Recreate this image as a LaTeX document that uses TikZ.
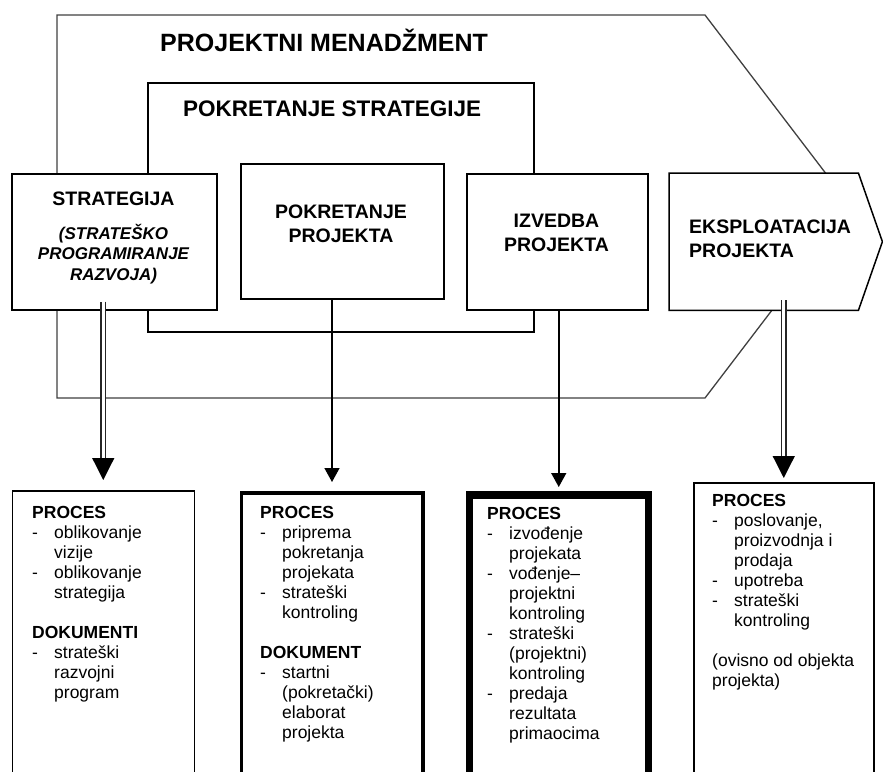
\documentclass[tikz,border=0pt]{standalone}
\usepackage{fontspec}
\setmainfont{Liberation Sans}
\usetikzlibrary{arrows.meta,calc}
\newcommand{\itm}[1]{\makebox[22pt][l]{-}#1}
\newcommand{\cnt}[1]{\hspace*{22pt}#1}
\begin{document}
\begin{tikzpicture}[x=1pt,y=-1pt,
  frame/.style={draw=black!75,line width=1.3pt},
  topbox/.style={draw=black,line width=1.5pt,fill=white,inner sep=0pt,anchor=north west},
  lowbox/.style={draw=black,fill=white,inner sep=0pt,anchor=north west,minimum height=330pt},
  ttl/.style={font=\fontsize{19.5}{24.3}\selectfont\bfseries,inner sep=0pt},
  bodytxt/.style={font=\fontsize{17.5}{20}\selectfont,inner sep=0pt,anchor=base west},
  smallarrow/.style={line width=1.5pt,-{Triangle[width=15pt,length=14pt]}},
  bigarrow/.style={line width=1.2pt,-{Triangle[width=22pt,length=22pt]}},
  dblshaft/.style={draw=black!85,double=white,double distance=3pt,line width=1.3pt}]
\useasboundingbox (0,0) rectangle (883,771);
\begin{scope}
\clip (0,0) rectangle (883,771);
% outer frame: projektni menadzment
\draw[frame,fill=white] (57,15) -- (705,15) -- (851,206.5) -- (705,398) -- (57,398) -- cycle;
\node[anchor=base west,inner sep=0pt,font=\fontsize{25}{30}\selectfont\bfseries] (pm) at (160,51) {PROJEKTNI MENADŽMENT};
% inner frame: pokretanje strategije
\draw[line width=1.5pt] (148,83) rectangle (534,332);
\node[anchor=base west,inner sep=0pt,font=\fontsize{22.5}{27}\selectfont\bfseries] (ps) at (183,116) {POKRETANJE STRATEGIJE};
% top boxes
\node[topbox,minimum width=205pt,minimum height=136pt] (strat) at (11,173) {};
\node[topbox,minimum width=203pt,minimum height=135pt] (pok) at (240,163) {};
\node[topbox,minimum width=181pt,minimum height=136pt] (izv) at (466,173) {};
\node[inner sep=0pt,anchor=north west,minimum width=189pt,minimum height=137pt] (eks) at (669,173) {};
\draw[line width=1.5pt,fill=white] (eks.north west) -- (eks.north east) -- ($(eks.east)+(24,0)$) -- (eks.south east) -- (eks.south west) -- cycle;
% top texts
\node[ttl,anchor=base] (t1) at (113.5,205) {STRATEGIJA};
\node[anchor=base,inner sep=0pt,font=\fontsize{17}{20.5}\selectfont\bfseries\itshape] (t1b) at (113.5,239) {\begin{tabular}[t]{@{}c@{}}(STRATEŠKO\\PROGRAMIRANJE\\RAZVOJA)\end{tabular}};
\node[ttl,anchor=base] (t2) at (341,218) {\begin{tabular}[t]{@{}c@{}}POKRETANJE\\PROJEKTA\end{tabular}};
\node[ttl,anchor=base] (t3) at (556.5,227) {\begin{tabular}[t]{@{}c@{}}IZVEDBA\\PROJEKTA\end{tabular}};
\node[ttl,anchor=base west] (t4) at (689,233.5) {\begin{tabular}[t]{@{}l@{}}EKSPLOATACIJA\\PROJEKTA\end{tabular}};
% lower boxes
\node[lowbox,line width=1.5pt,minimum width=182pt] (b1) at (11.5,490) {};
\node[lowbox,line width=3.5pt,minimum width=181.5pt] (b2) at (239.5,491) {};
\node[lowbox,line width=7.5pt,minimum width=179pt] (b3) at (465.5,491) {};
\node[lowbox,line width=1.5pt,minimum width=180pt] (b4) at (693,482) {};
% lower texts
\node[bodytxt] (x1) at (32,518) {\begin{tabular}[t]{@{}l@{}}
\textbf{PROCES}\\
\itm{oblikovanje}\\
\cnt{vizije}\\
\itm{oblikovanje}\\
\cnt{strategija}\\
\\
\textbf{DOKUMENTI}\\
\itm{strateški}\\
\cnt{razvojni}\\
\cnt{program}
\end{tabular}};
\node[bodytxt] (x2) at (260,518) {\begin{tabular}[t]{@{}l@{}}
\textbf{PROCES}\\
\itm{priprema}\\
\cnt{pokretanja}\\
\cnt{projekata}\\
\itm{strateški}\\
\cnt{kontroling}\\
\\
\textbf{DOKUMENT}\\
\itm{startni}\\
\cnt{(pokretački)}\\
\cnt{elaborat}\\
\cnt{projekta}
\end{tabular}};
\node[bodytxt] (x3) at (487,519) {\begin{tabular}[t]{@{}l@{}}
\textbf{PROCES}\\
\itm{izvođenje}\\
\cnt{projekata}\\
\itm{vođenje–}\\
\cnt{projektni}\\
\cnt{kontroling}\\
\itm{strateški}\\
\cnt{(projektni)}\\
\cnt{kontroling}\\
\itm{predaja}\\
\cnt{rezultata}\\
\cnt{primaocima}
\end{tabular}};
\node[bodytxt] (x4) at (712,506) {\begin{tabular}[t]{@{}l@{}}
\textbf{PROCES}\\
\itm{poslovanje,}\\
\cnt{proizvodnja i}\\
\cnt{prodaja}\\
\itm{upotreba}\\
\itm{strateški}\\
\cnt{kontroling}\\
\\
(ovisno od objekta\\
projekta)
\end{tabular}};
% connectors
\coordinate (sa) at ($(b1.north |- strat.south)+(0,-9)$);
\coordinate (sa2) at ($(b1.north)+(0,-32)$);
\draw[dblshaft] (sa) -- ($(sa2)+(0,1)$);
\draw[bigarrow,shorten >=10pt] (sa2) -- (b1.north);
\draw[smallarrow,shorten >=9pt] (b2.north |- pok.south) -- (b2.north);
\draw[smallarrow,shorten >=4pt] (b3.north |- izv.south) -- (b3.north);
\coordinate (sd) at ($(b4.north |- eks.south)+(0,-10)$);
\coordinate (sd2) at ($(b4.north)+(0,-26)$);
\draw[dblshaft] (sd) -- ($(sd2)+(0,1)$);
\draw[bigarrow,shorten >=4pt] (sd2) -- (b4.north);
\end{scope}
\end{tikzpicture}
\end{document}
